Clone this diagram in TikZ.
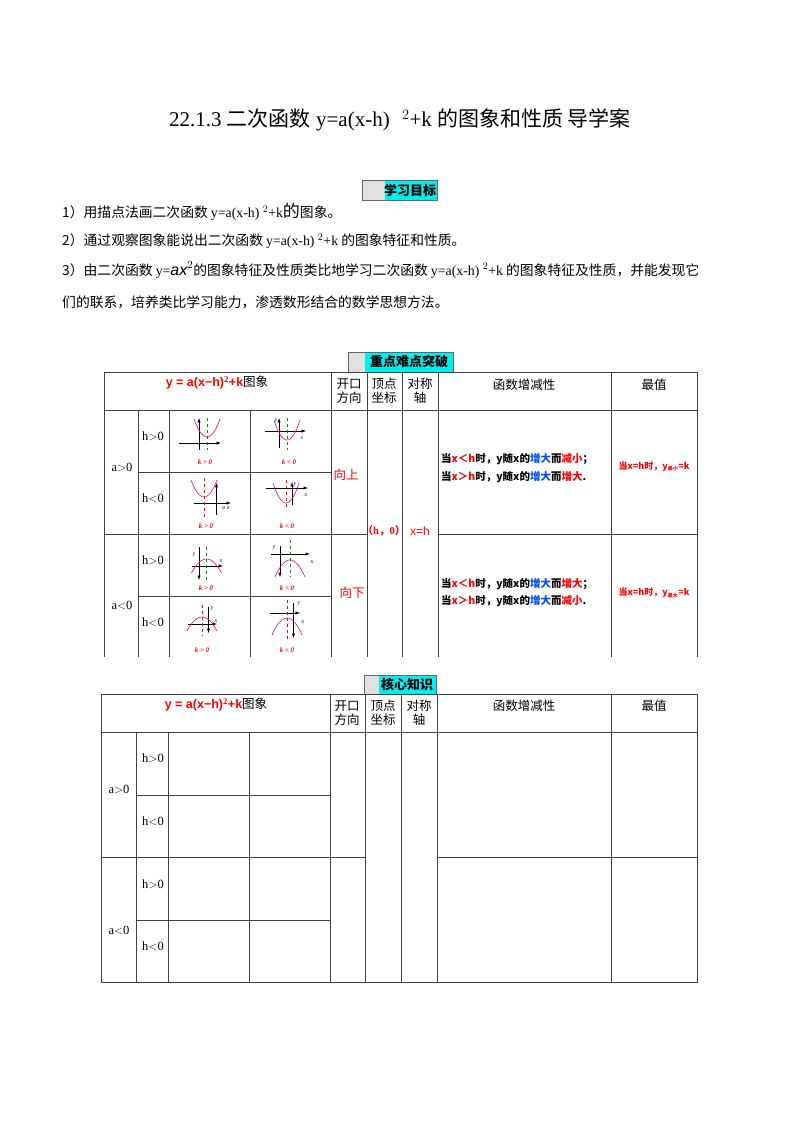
\documentclass[tikz,border=0pt]{standalone}
\usepackage{fontspec}
\setmainfont{Liberation Serif}
\newfontfamily\cjk{Noto Sans CJK SC}
\newfontfamily\arl{Liberation Sans}
\definecolor{hcyan}{RGB}{0,240,240}
\begin{document}
\begin{tikzpicture}[x=1pt,y=-1pt,
  ln/.style={draw=black!75,line width=0.8pt},
  tx/.style={font=\fontsize{12.5}{14}\selectfont,inner sep=0pt},
  bt/.style={font=\fontsize{13.8}{15}\selectfont,inner sep=0pt,anchor=west},
  ax/.style={draw=black,line width=0.5pt,-latex},
  pb/.style={draw=magenta,line width=0.6pt},
  gd/.style={draw=green!55!black,dashed,line width=1pt},
  rd/.style={draw=red,dashed,line width=1pt},
  kl/.style={font=\fontsize{7}{8}\selectfont\itshape\bfseries,text=red,inner sep=0pt},
  al/.style={font=\fontsize{6}{7}\selectfont\itshape,text=blue!60!black,inner sep=0pt}]
\useasboundingbox (0,0) rectangle (800,1132);
\fill[white] (0,0) rectangle (800,1132);
% title
\node[inner sep=0pt,font=\fontsize{21}{24}\selectfont] (title) at (400,120) {22.1.3 {\cjk 二次函数} y=a(x-h)\,\, $^{2}$+k {\cjk 的图象和性质 导学案}};
% header 1
\draw[fill=black!12,draw=black!60] (362,180) rectangle (437,200);
\fill[hcyan] (385,181) rectangle (436.5,199.5);
\node[inner sep=0pt,font=\cjk\bfseries\fontsize{13}{14}\selectfont] (h1) at (410,190) {学习目标};
\node[bt] (l1) at (62,212) {\cjk 1）用描点法画二次函数 {\rmfamily y=a(x-h) $^2$+k}{\itshape\fontsize{17}{17}\selectfont 的}图象。};
\node[bt] (l2) at (62,241) {\cjk 2）通过观察图象能说出二次函数 {\rmfamily y=a(x-h) $^2$+k} 的图象特征和性质。};
\node[bt] (l3) at (62,270) {\cjk 3）由二次函数 {\rmfamily y=}{\arl\itshape\fontsize{16}{16}\selectfont ax$^2$}的图象特征及性质类比地学习二次函数 {\rmfamily y=a(x-h) $^2$+k} 的图象特征及性质，并能发现它};
\node[bt] (l4) at (62,302) {\cjk 们的联系，培养类比学习能力，渗透数形结合的数学思想方法。};
% header 2
\draw[fill=black!12,draw=black!60] (348,352) rectangle (453,372);
\fill[hcyan] (365,353) rectangle (452.5,371.5);
\node[inner sep=0pt,font=\cjk\bfseries\fontsize{13}{14}\selectfont] (h2) at (409,362) {重点难点突破};
% table 1 lines
\draw[ln] (104,372) -- (697,372);
\draw[ln] (104,410) -- (697,410);
\draw[ln] (104,534) -- (367,534) (438,534) -- (697,534);
\draw[ln] (138,472) -- (331,472) (138,596) -- (331,596);
\foreach \x in {104,138,169,250,331,367,402,438,611,697} {\draw[ln] (\x,410) -- (\x,657);}
\foreach \x in {331,367,402,438,611} {\draw[ln] (\x,372) -- (\x,410);}
\draw[ln] (104,372) -- (104,410) (697,372) -- (697,410);
% table 1 header text
\node[tx] (t1f) at (217,383) {\arl\bfseries\textcolor{red}{y = a(x−h)$^{\mathbf 2}$+k}\cjk\mdseries 图象};
\node[tx,align=center] (t1a) at (349,391) {\cjk 开口\\[0pt]\cjk 方向};
\node[tx,align=center] (t1b) at (384,391) {\cjk 顶点\\[0pt]\cjk 坐标};
\node[tx,align=center] (t1c) at (420,391) {\cjk 对称\\[0pt]\cjk 轴};
\node[tx] (t1d) at (524,385) {\cjk 函数增减性};
\node[tx] (t1e) at (654,385) {\cjk 最值};
\node[tx] (p1) at (122,467) {a$>$0};
\node[tx] (p2) at (153,436) {h$>$0};
\node[tx] (p3) at (153,498) {h$<$0};
\node[tx] (p4) at (122,605) {a$<$0};
\node[tx] (p5) at (153,560) {h$>$0};
\node[tx] (p6) at (153,622) {h$<$0};
\node[tx,text=red] (up) at (346,475) {\cjk 向上};
\node[tx,text=red] (dn) at (352,593) {\cjk 向下};
\node[tx,text=red,font=\bfseries\fontsize{10.5}{12}\selectfont] (vt) at (384,531) {{\cjk （}h{\cjk ，}0{\cjk ）}};
\node[tx,text=red,font=\arl\fontsize{12}{12}\selectfont] (sy) at (420,531) {x=h};
\tikzset{ms/.style={inner sep=0pt,anchor=west,font=\fontsize{10.5}{12}\selectfont\bfseries}}
\node[ms] (m1) at (441,459) {\cjk 当\textcolor{red}{x＜h}时，y随x的\textcolor{blue!70!cyan}{增大}而\textcolor{red}{减小}；};
\node[ms] (m2) at (441,477) {\cjk 当\textcolor{red}{x＞h}时，y随x的\textcolor{blue!70!cyan}{增大}而\textcolor{red}{增大}.};
\node[ms] (m3) at (441,584) {\cjk 当\textcolor{red}{x＜h}时，y随x的\textcolor{blue!70!cyan}{增大}而\textcolor{red}{增大}；};
\node[ms] (m4) at (441,601) {\cjk 当\textcolor{red}{x＞h}时，y随x的\textcolor{blue!70!cyan}{增大}而\textcolor{red}{减小}.};
\node[tx,text=red,font=\cjk\bfseries\fontsize{9}{10}\selectfont] (v1) at (654,467) {当x=h时，y$_{\mbox{\tiny 最小}}$=k};
\node[tx,text=red,font=\cjk\bfseries\fontsize{9}{10}\selectfont] (v2) at (654,593) {当x=h时，y$_{\mbox{\tiny 最大}}$=k};
% graphs
\newcommand\axs[6]{\draw[ax] (#1,#5) -- (#2,#5); \draw[ax] (#6,#4) -- (#6,#3);}
\newcommand\pbu[3]{\draw[pb] plot[domain=-13:13,samples=30] ({#1+\x},{#2-#3*(\x/13)^2});}
\newcommand\pbd[3]{\draw[pb] plot[domain=-15:15,samples=30] ({#1+\x},{#2+#3*(\x/15)^2});}
% G1
\axs{179}{221}{418}{450}{443}{199} \pbu{207}{437}{18} \draw[gd] (207,418) -- (207,450);
\node[kl] (k1) at (205,462) {k > 0};
% G2
\axs{265}{306}{418}{448}{431}{279} \pbu{287}{440}{20} \draw[gd] (287,418) -- (287,450);
\node[al] at (276,421) {y}; \node[al] at (302,438) {x};
\node[kl] (k2) at (289,462) {k < 0};
% G3
\axs{194}{231}{483}{515}{503}{216.5} \pbu{204}{497}{17} \draw[rd] (204,478) -- (204,520);
\node[al,text=black] at (226,508) {o x};
\node[kl] (k3) at (206,526) {k > 0};
% G4
\axs{266}{308}{482}{505}{488}{292} \pbu{286}{503}{20} \draw[rd] (286,480) -- (286,510);
\node[al] at (295,485) {y}; \node[al] at (306,495) {x};
\node[kl] (k4) at (287,526) {k < 0};
% G5
\axs{191.5}{223}{580}{547}{566}{199} \pbd{206.5}{559}{14} \draw[gd] (206.5,547) -- (206.5,580);
\node[al] at (194,555) {y}; \node[al] at (221,561) {x};
\node[kl] (k5) at (206,588) {k > 0};
% G6
\axs{271}{310}{577}{546}{554}{280} \pbd{290}{560}{17} \draw[gd] (290,540) -- (290,577);
\node[al] at (274,548) {y}; \node[al] at (312,562) {x};
\node[kl] (k6) at (287,588) {k < 0};
% G7
\axs{188}{217}{633}{607}{624}{208.5} \pbd{202}{617}{14} \draw[rd] (202,605) -- (202,636);
\node[al] at (212,609) {y}; \node[al] at (216,621) {x};
\node[kl] (k7) at (202,650) {k > 0};
% G8
\axs{270}{300}{638}{603}{613}{293.5} \pbd{287}{618}{17} \draw[rd] (287,600) -- (287,640);
\node[al] at (299,604) {y}; \node[al] at (303,622) {x};
\node[kl] (k8) at (287,650) {k < 0};
% header 3
\draw[fill=black!12,draw=black!60] (364,675) rectangle (436,694);
\fill[hcyan] (379,676) rectangle (435.5,693.5);
\node[inner sep=0pt,font=\cjk\bfseries\fontsize{13}{14}\selectfont] (h3) at (407,684.5) {核心知识};
% table 2
\draw[ln] (101,694) rectangle (697,982);
\draw[ln] (101,732) -- (697,732);
\draw[ln] (101,857) -- (365,857) (437,857) -- (697,857);
\draw[ln] (136,795) -- (330,795) (136,920) -- (330,920);
\foreach \x in {136,168,249} {\draw[ln] (\x,732) -- (\x,982);}
\foreach \x in {330,365,401,437,611} {\draw[ln] (\x,694) -- (\x,982);}
\node[tx] (s1f) at (216,705) {\arl\bfseries\textcolor{red}{y = a(x−h)$^{\mathbf 2}$+k}\cjk\mdseries 图象};
\node[tx,align=center] (s1a) at (347,713) {\cjk 开口\\[0pt]\cjk 方向};
\node[tx,align=center] (s1b) at (383,713) {\cjk 顶点\\[0pt]\cjk 坐标};
\node[tx,align=center] (s1c) at (419,713) {\cjk 对称\\[0pt]\cjk 轴};
\node[tx] (s1d) at (524,706) {\cjk 函数增减性};
\node[tx] (s1e) at (654,706) {\cjk 最值};
\node[tx] (q1) at (119,789) {a$>$0};
\node[tx] (q2) at (153,758) {h$>$0};
\node[tx] (q3) at (153,821) {h$<$0};
\node[tx] (q4) at (119,930) {a$<$0};
\node[tx] (q5) at (153,884) {h$>$0};
\node[tx] (q6) at (153,946) {h$<$0};
\end{tikzpicture}
\end{document}
